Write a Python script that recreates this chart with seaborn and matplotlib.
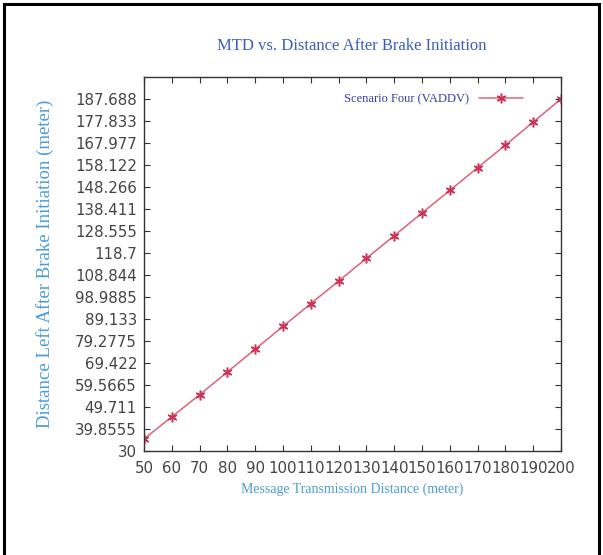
import matplotlib
matplotlib.use("Agg")
import matplotlib.pyplot as plt
import seaborn as sns
import pandas as pd
from matplotlib.lines import Line2D
from matplotlib.patches import Rectangle

# Message transmission distance (m) and distance left after brake initiation (m)
mtd = [50, 60, 70, 80, 90, 100, 110, 120, 130, 140, 150, 160, 170, 180, 190, 200]
dist_left = [35.4, 45.3, 55.2, 65.4, 75.6, 85.8, 96.0, 106.1, 116.3, 126.4,
             136.6, 146.7, 156.9, 167.0, 177.3, 187.688]
series_name = "Scenario Four (VADDV)"

x_ticks = [50, 60, 70, 80, 90, 100, 110, 120, 130, 140, 150, 160, 170, 180, 190, 200]
y_ticks = [30, 39.8555, 49.711, 59.5665, 69.422, 79.2775, 89.133, 98.9885, 108.844,
           118.7, 128.555, 138.411, 148.266, 158.122, 167.977, 177.833, 187.688]
y_tick_labels = ["30", "39.8555", "49.711", "59.5665", "69.422", "79.2775", "89.133",
                 "98.9885", "108.844", "118.7", "128.555", "138.411", "148.266",
                 "158.122", "167.977", "177.833", "187.688"]

df = pd.DataFrame({"mtd": mtd, "dist": dist_left, "series": series_name})

sns.set_style("ticks")
plt.rcParams["font.family"] = ["DejaVu Sans"]

fig = plt.figure(figsize=(6.03, 5.55), dpi=100)
ax = fig.add_axes([0.2388, 0.1874, 0.6915, 0.674])

line_color = "#e0607a"
mark_color = "#cc3355"
marker = (6, 2, 0)
sns.lineplot(data=df, x="mtd", y="dist", ax=ax, color=line_color, linewidth=1.1,
             marker=marker, markersize=7, markeredgecolor=mark_color,
             markeredgewidth=1.1, legend=False)

ax.set_xlim(50, 200)
ax.set_ylim(30, 197.5435)
ax.set_xticks(x_ticks)
ax.set_xticklabels([str(v) for v in x_ticks])
ax.set_yticks(y_ticks)
ax.set_yticklabels(y_tick_labels)

ax.tick_params(direction="in", length=4, width=0.8, top=True, right=True,
               labelsize=10.8, labelcolor="#444444", color="#333333")
ax.tick_params(axis="x", pad=7)
ax.tick_params(axis="y", pad=5)
for s in ax.spines.values():
    s.set_visible(True)
    s.set_linewidth(1.0)
    s.set_color("#333333")

serif = ["Liberation Serif", "DejaVu Serif"]
ax.set_xlabel("Message Transmission Distance (meter)", family=serif, fontsize=10,
              color="#4a9bd6", labelpad=5)
ax.set_ylabel("Distance Left After Brake Initiation (meter)", family=serif, fontsize=13.5,
              color="#4a9bd6", labelpad=15)
fig.text(0.584, 0.918, "MTD vs. Distance After Brake Initiation", family=serif,
         fontsize=12, color="#3a5fb8", ha="center", va="center")

handle = Line2D([], [], color=line_color, linewidth=1.1, marker=marker, markersize=7,
                markeredgecolor=mark_color, markeredgewidth=1.1)
leg = ax.legend([handle], [series_name], loc="upper right", frameon=False,
                markerfirst=False, handlelength=3.5, borderaxespad=0,
                bbox_to_anchor=(0.92, 0.97), prop={"family": serif, "size": 9})
for t in leg.get_texts():
    t.set_color("#3a3aa8")

# outer frame
fig.patches.append(Rectangle((0.006, -0.05), 0.988, 1.043, transform=fig.transFigure,
                             fill=False, edgecolor="black", linewidth=2.2))

fig.savefig("out.png", dpi=100)
